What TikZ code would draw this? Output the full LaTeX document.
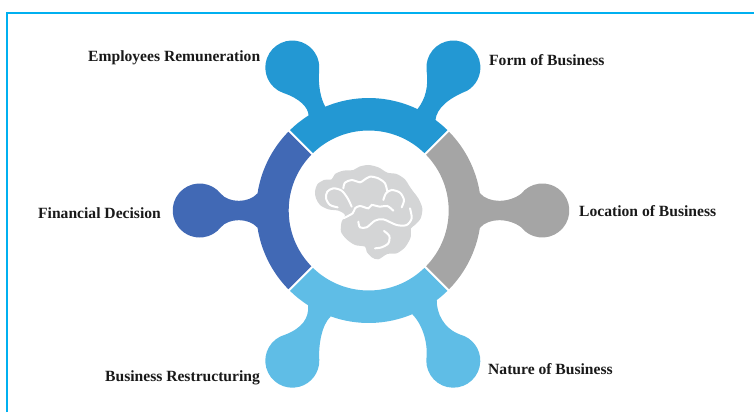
\documentclass[tikz,border=0pt]{standalone}
\usepackage{fontspec}
\setmainfont{Liberation Serif}
\usetikzlibrary{calc}
\definecolor{topblue}{HTML}{2398D3}
\definecolor{leftblue}{HTML}{4169B5}
\definecolor{rightgrey}{HTML}{A5A5A5}
\definecolor{lowblue}{HTML}{5FBDE6}
\definecolor{brainfill}{HTML}{D4D5D6}
\definecolor{framecyan}{HTML}{00B0F0}
\tikzset{label/.style={anchor=west, inner sep=0pt, text=black!90,
    font=\bfseries\fontsize{15.6}{17}\selectfont},
  frameline/.style={-, line width=2.5pt, draw=framecyan},
  brainline/.style={-, line width=2pt, draw=white, line cap=round}
}

\begin{document}
\begin{tikzpicture}[x=1pt, y=1pt]
\useasboundingbox (-368.7,-201.5) rectangle (385.3,210.5);

\draw [frameline] (-361.7,-201.5) |- (385.3,197.5);

\coordinate (TLbulb) at (-76.4,143);
\coordinate (TRbulb) at (84.7,143);
\coordinate (BLbulb) at (-76.4,-150.2);
\coordinate (BRbulb) at (84.6,-150.2);
\coordinate (Lbulb) at (-169,0);
\coordinate (Rbulb) at (173.6,0);

%Top segment
\fill [topblue] (134.4:112.5) arc[start angle=134.4, end angle=122.3, radius=112.5]
  .. controls (-60.4,103) and (-68.7,112) .. ($(TLbulb)+(249.6:27)$)
  arc[start angle=249.6, delta angle=-254.9, radius=27]
  .. controls (-50.8,125) and (-48,112) .. (112.7:112.5)
  arc[start angle=112.7, end angle=64.3, radius=112.5]
  .. controls (57,112) and (60,124) .. ($(TRbulb)+(185.4:27)$)
  arc[start angle=185.4, delta angle=-244.8, radius=27]
  .. controls (79.6,112.2) and (68,102.2) .. (53.6:112.5)
  arc[start angle=53.6, end angle=45.6, radius=112.5]
  -- (45.8:80) arc[start angle=45.8, end angle=134.2, radius=80] -- cycle;

%Left segment
\fill [leftblue] (135.6:112.5) arc[start angle=135.6, end angle=171.2, radius=112.5]
  .. controls (-120,7) and (-140,7.5) .. ($(Lbulb)+(38:27)$)
  arc[start angle=38, delta angle=284, radius=27]
  .. controls (-140,-7.5) and (-120,-7) .. (188.8:112.5)
  arc[start angle=188.8, end angle=224.4, radius=112.5]
  -- (224.2:80) arc[start angle=224.2, end angle=135.8, radius=80] -- cycle;

%Right segment
\fill [rightgrey] (-44.4:112.5) arc[start angle=-44.4, end angle=-8.9, radius=112.5]
  .. controls (120,-7) and (140,-7.5) .. ($(Rbulb)+(218:27)$)
  arc[start angle=218, delta angle=284, radius=27]
  .. controls (140,7.5) and (120,7) .. (8.9:112.5)
  arc[start angle=8.9, end angle=44.4, radius=112.5]
  -- (44.2:80) arc[start angle=44.2, end angle=-44.2, radius=80] -- cycle;

%Bottom segment
\fill [lowblue] (225.6:112.5) arc[start angle=225.6, end angle=237.4, radius=112.5]
  .. controls (-59.4,-107.8) and (-67,-117.8) .. ($(BLbulb)+(105:27)$)
  arc[start angle=105, delta angle=256.5, radius=27]
  .. controls (-50.4,-135) and (-47,-114) .. (-109.7:112.5)
  arc[start angle=-109.7, end angle=-67.2, radius=112.5]
  .. controls (52,-112) and (60,-130) .. ($(BRbulb)+(178.5:27)$)
  arc[start angle=178.5, delta angle=256.5, radius=27]
  .. controls (74.6,-117.8) and (68,-102.8) .. (-52.8:112.5)
  arc[start angle=-52.8, end angle=-45.6, radius=112.5]
  -- (-45.8:80) arc[start angle=-45.8, end angle=-134.2, radius=80] -- cycle;

%Brain
\begin{scope}[shift={(-68.7,60.5)}, x=0.3333pt, y=-0.3333pt]
  \fill [brainfill] plot[smooth cycle] coordinates {(45,125) (52,103) (72,90) (95,88)
    (105,72) (130,62) (160,60) (178,50) (205,45) (235,52) (262,68) (290,72) (315,88)
    (328,108) (340,125) (355,145) (367,175) (362,205) (345,225) (333,235) (332,262)
    (315,292) (290,310) (262,312) (235,328) (215,322) (200,305) (195,290) (165,285)
    (140,268) (123,245) (125,215) (135,195) (115,182) (85,178) (60,165) (48,145)};
  \draw [brainline] plot[smooth] coordinates {(113,172) (90,165) (78,145) (82,125)
    (100,115) (125,122) (143,145) (155,170)};
  \draw [brainline] plot[smooth] coordinates {(130,115) (135,98) (155,90) (180,97)
    (192,90) (210,80) (235,85) (255,100) (262,125)};
  \draw [brainline] plot[smooth] coordinates {(250,150) (258,130) (275,120) (300,128)
    (312,150) (305,172)};
  \draw [brainline] plot[smooth] coordinates {(280,182) (262,168) (240,170) (215,165)
    (205,175) (180,168) (165,175) (158,190) (130,205)};
  \draw [brainline] plot[smooth] coordinates {(175,215) (180,232) (200,232) (225,212)
    (250,208) (290,225) (320,225) (335,205) (330,175)};
  \draw [brainline] plot[smooth] coordinates {(252,243) (268,258) (265,280) (245,292)
    (225,295)};
\end{scope}

%Labels
\node (employees) [label] at (-280.7,153) {Employees Remuneration};
\node (form) [label] at (120.3,150.5) {Form of Business};
\node (financial) [label] at (-330.7,-2.5) {Financial Decision};
\node (location) [label] at (210.3,-0.5) {Location of Business};
\node (restructuring) [label] at (-263.7,-167) {Business Restructuring};
\node (nature) [label] at (119.3,-158.5) {Nature of Business};
\end{tikzpicture}
\end{document}
